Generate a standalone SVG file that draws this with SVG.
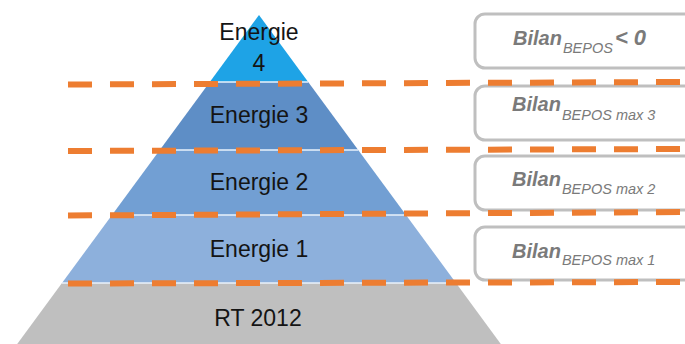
<svg xmlns="http://www.w3.org/2000/svg" width="685" height="344" viewBox="0 0 685 344">
  <style>
    .lvl { font-family: "Liberation Sans", Arial, sans-serif; font-size: 23px; fill: #141414; text-anchor: middle; }
    .sep { stroke: #eaf2fb; stroke-width: 1.5; }
    .box { fill: #ffffff; stroke: #bfbfbf; stroke-width: 3; }
    .bil { font-family: "Liberation Sans", Arial, sans-serif; font-size: 20px; font-weight: bold; font-style: italic; fill: #7a7a7a; }
    .sub { font-size: 14.5px; font-weight: normal; }
    .cut { fill: none; stroke: #ed7d31; stroke-width: 6; stroke-dasharray: 24 18; }
  </style>

  <rect width="685" height="344" fill="#ffffff"/>

  <!-- pyramid levels -->
  <g id="rt2012">
    <polygon points="62,283 456,283 500.8,344 17.2,344" fill="#bfbfbf"/>
    <text class="lvl" x="258" y="326">RT 2012</text>
  </g>
  <g id="energie1">
    <polygon points="112,215 406,215 456,283 62,283" fill="#8db0dc"/>
    <text class="lvl" x="259" y="257">Energie 1</text>
  </g>
  <g id="energie2">
    <polygon points="159.8,150 358.2,150 406,215 112,215" fill="#729fd3"/>
    <text class="lvl" x="259" y="190">Energie 2</text>
  </g>
  <g id="energie3">
    <polygon points="209.8,82 308.2,82 358.2,150 159.8,150" fill="#5e8ec6"/>
    <text class="lvl" x="259" y="123">Energie 3</text>
  </g>
  <g id="energie4">
    <polygon points="259,15 308.2,82 209.8,82" fill="#1ea3e6"/>
    <text class="lvl" x="259" y="40">Energie</text>
    <text class="lvl" x="259" y="71">4</text>
  </g>
  <g id="level-separators">
    <line class="sep" x1="209.8" y1="82" x2="308.2" y2="82"/>
    <line class="sep" x1="159.8" y1="150" x2="358.2" y2="150"/>
    <line class="sep" x1="112" y1="215" x2="406" y2="215"/>
    <line class="sep" x1="62" y1="283" x2="456" y2="283"/>
  </g>

  <!-- balance labels -->
  <g id="bilan-0">
    <rect class="box" x="475" y="14" width="230" height="54" rx="10"/>
    <text class="bil" x="513" y="45">Bilan<tspan class="sub" dx="1" dy="8">BEPOS</tspan><tspan dx="2" dy="-8" font-size="22px">&lt; 0</tspan></text>
  </g>
  <g id="bilan-3">
    <rect class="box" x="475" y="86" width="230" height="54" rx="10"/>
    <text class="bil" x="512" y="111">Bilan<tspan class="sub" dx="1" dy="9">BEPOS max 3</tspan></text>
  </g>
  <g id="bilan-2">
    <rect class="box" x="475" y="156" width="230" height="54" rx="10"/>
    <text class="bil" x="512" y="186">Bilan<tspan class="sub" dx="1" dy="8">BEPOS max 2</tspan></text>
  </g>
  <g id="bilan-1">
    <rect class="box" x="475" y="227" width="230" height="53" rx="10"/>
    <text class="bil" x="512" y="258">Bilan<tspan class="sub" dx="1" dy="7">BEPOS max 1</tspan></text>
  </g>

  <!-- dashed level boundaries -->
  <g id="connectors">
    <line class="cut" x1="68" y1="84.5" x2="685" y2="82"/>
    <line class="cut" x1="68" y1="151" x2="685" y2="149"/>
    <line class="cut" x1="68" y1="215.5" x2="685" y2="212"/>
    <line class="cut" x1="68" y1="283.5" x2="685" y2="282"/>
  </g>
</svg>
